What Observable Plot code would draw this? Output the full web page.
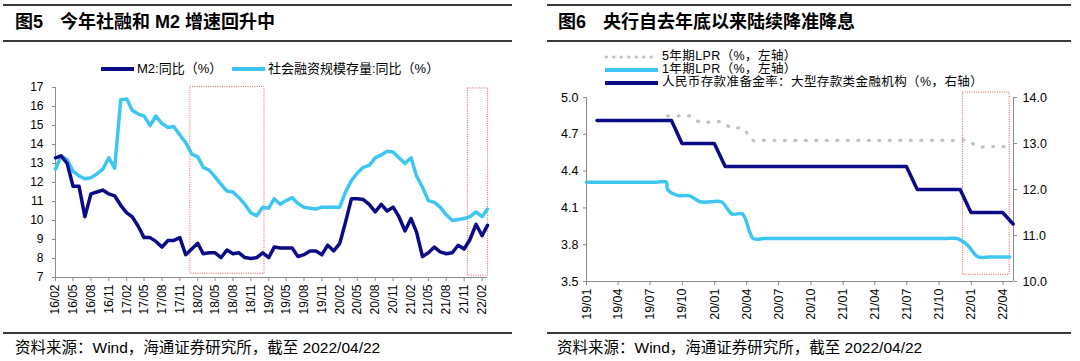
<!DOCTYPE html>
<html><head><meta charset="utf-8">
<script src="https://cdn.jsdelivr.net/npm/d3@7"></script>
<script src="https://cdn.jsdelivr.net/npm/@observablehq/plot@0.6"></script>
<style>
body{margin:0;background:#fff;}
#page{position:relative;width:1080px;height:361px;overflow:hidden;background:#fff;font-family:"Liberation Sans",Arial,"Noto Sans CJK SC",sans-serif;color:#000;}
.rule{position:absolute;background:#3a3a3a;}
.t{position:absolute;white-space:nowrap;}
.title{font-size:18px;font-weight:bold;line-height:22px;font-family:"Liberation Sans",Arial,"Noto Sans CJK SC",sans-serif;}
.cap{font-size:15.5px;line-height:18px;}
.leg{font-size:13px;line-height:14px;}
.leg2{font-size:12.5px;line-height:13px;letter-spacing:0.4px;}
.sw{position:absolute;height:4px;}
.plot{position:absolute;}
</style></head><body>
<div id="page"></div>
<script>
// ---------- Panel 5 data (monthly, 2016/02 - 2022/03) ----------
const leftStart = "2016-02-01";
const leftEnd = "2022-03-01";
const m2Yoy = [13.3,13.4,13.0,11.8,11.8,10.2,11.4,11.5,11.6,11.4,11.3,10.8,10.4,10.2,9.7,9.1,9.1,8.9,8.6,8.95,8.95,9.1,8.2,8.5,
  8.8,8.25,8.3,8.3,8.05,8.45,8.25,8.3,8.05,8.0,8.05,8.3,8.05,8.6,8.55,8.55,8.55,8.1,8.2,8.4,8.4,8.2,8.7,8.4,
  8.8,9.9,11.15,11.15,11.1,10.85,10.45,10.85,10.5,10.7,10.2,9.45,10.1,9.4,8.1,8.3,8.6,8.35,8.25,8.3,8.7,8.5,9.0,9.8,9.2,9.75];
const tsfYoy = [12.7,13.4,13.2,12.6,12.35,12.2,12.25,12.45,12.7,13.3,12.75,16.35,16.4,15.8,15.6,15.5,15.0,15.5,15.1,14.9,14.95,14.5,14.1,13.5,
  13.35,12.8,12.65,12.3,11.9,11.55,11.5,11.2,10.85,10.4,10.25,10.7,10.65,11.15,10.85,11.05,11.2,10.9,10.7,10.65,10.6,10.7,10.7,10.7,
  10.7,11.5,12.1,12.5,12.8,12.9,13.3,13.45,13.65,13.6,13.3,13.0,13.3,12.35,11.75,11.05,10.95,10.7,10.3,10.0,10.05,10.1,10.2,10.45,10.2,10.6];
const leftTickLabels = ["16/02","16/05","16/08","16/11","17/02","17/05","17/08","17/11","18/02","18/05","18/08","18/11",
  "19/02","19/05","19/08","19/11","20/02","20/05","20/08","20/11","21/02","21/05","21/08","21/11","22/02"];
const leftYTicks = [7,8,9,10,11,12,13,14,15,16,17];
const leftBoxStart = ["2017-12-25","2021-11-20"];
const leftBoxEnd   = ["2019-01-10","2022-03-04"];
const leftBoxTop   = [17.03,16.95];
const leftBoxBottom= [7.2,7.1];

// ---------- Panel 6 data ----------
const rightStart = "2019-01-01";
const rightEnd = "2022-05-01";
const lpr5yDates = ["2019-08-20","2019-09-20","2019-10-21","2019-11-20","2019-12-20","2020-01-20","2020-02-20","2020-03-20","2020-04-20",
  "2020-05-20","2020-06-22","2020-07-20","2020-08-20","2020-09-21","2020-10-20","2020-11-20","2020-12-21","2021-01-20","2021-02-20",
  "2021-03-22","2021-04-20","2021-05-20","2021-06-21","2021-07-20","2021-08-20","2021-09-22","2021-10-20","2021-11-22","2021-12-20",
  "2022-01-20","2022-02-21","2022-03-21","2022-04-20"];
const lpr5yValues = [4.85,4.85,4.85,4.80,4.80,4.80,4.75,4.75,4.65,4.65,4.65,4.65,4.65,4.65,4.65,4.65,4.65,4.65,4.65,
  4.65,4.65,4.65,4.65,4.65,4.65,4.65,4.65,4.65,4.65,4.60,4.60,4.60,4.60];
const lpr1yDates = ["2019-01-01","2019-02-20","2019-03-20","2019-04-20","2019-05-20","2019-06-20","2019-07-20","2019-08-16",
  ...lpr5yDates];
const lpr1yValues = [4.31,4.31,4.31,4.31,4.31,4.31,4.31,4.31,
  4.25,4.20,4.20,4.15,4.15,4.15,4.05,4.05,3.85,3.85,3.85,3.85,3.85,3.85,3.85,3.85,3.85,3.85,3.85,
  3.85,3.85,3.85,3.85,3.85,3.85,3.85,3.85,3.85,3.80,3.70,3.70,3.70,3.70];
const rrrMonthEnds = ["2019-01-31","2019-02-28","2019-03-31","2019-04-30","2019-05-31","2019-06-30","2019-07-31","2019-08-31",
  "2019-09-30","2019-10-31","2019-11-30","2019-12-31","2020-01-31","2020-02-29","2020-03-31","2020-04-30","2020-05-31","2020-06-30",
  "2020-07-31","2020-08-31","2020-09-30","2020-10-31","2020-11-30","2020-12-31","2021-01-31","2021-02-28","2021-03-31","2021-04-30",
  "2021-05-31","2021-06-30","2021-07-31","2021-08-31","2021-09-30","2021-10-31","2021-11-30","2021-12-31","2022-01-31","2022-02-28",
  "2022-03-31","2022-04-30"];
const rrrValues = [13.5,13.5,13.5,13.5,13.5,13.5,13.5,13.5,13.0,13.0,13.0,13.0,12.5,12.5,12.5,12.5,12.5,12.5,
  12.5,12.5,12.5,12.5,12.5,12.5,12.5,12.5,12.5,12.5,12.5,12.5,12.0,12.0,12.0,12.0,12.0,11.5,11.5,11.5,11.5,11.25];
const rightTickLabels = ["19/01","19/04","19/07","19/10","20/01","20/04","20/07","20/10","21/01","21/04","21/07","21/10","22/01","22/04"];
const rightLeftTicks = [3.5,3.8,4.1,4.4,4.7,5.0];
const rightRightTicks = [10,11,12,13,14];
const rightBoxStart = ["2021-12-08"], rightBoxEnd = ["2022-04-20"], rightBoxTop = [5.04], rightBoxBottom = [3.555];

// ---------- colours ----------
const NAVY = "#0b0b86", LIGHT = "#3ec6f3", GRAY = "#c3c3c3", RED = "#e05a5a", AXIS = "#8c8c8c";
const FONT = '"Liberation Sans",Arial,"Noto Sans CJK SC",sans-serif';

const P = d => new Date(d + (d.length === 10 ? "T00:00:00Z" : ""));
const ym = s => new Date(Date.UTC(2000 + +s.slice(0,2), +s.slice(3,5) - 1, 1));

const page = document.getElementById("page");
function add(html){ page.insertAdjacentHTML("beforeend", html); }
function place(node, left, top){ node.classList.add("plot"); node.style.left = left+"px"; node.style.top = top+"px"; page.appendChild(node); }

// ---------- frame: rules, titles, captions ----------
add(`<div class="rule" style="left:3px;top:4px;width:509px;height:2px"></div>
<div class="rule" style="left:3px;top:40px;width:509px;height:1.5px"></div>
<div class="rule" style="left:3px;top:332px;width:509px;height:1.5px"></div>
<div class="rule" style="left:547px;top:4px;width:524px;height:2px"></div>
<div class="rule" style="left:547px;top:40px;width:524px;height:1.5px"></div>
<div class="rule" style="left:547px;top:332px;width:524px;height:1.5px"></div>
<div class="t title" style="left:15px;top:11px">图5<span style="margin-left:17px">今年社融和 M2 增速回升中</span></div>
<div class="t title" style="left:558px;top:11px">图6<span style="margin-left:17px">央行自去年底以来陆续降准降息</span></div>
<div class="t cap" style="left:15px;top:339px">资料来源：Wind，海通证券研究所，截至 2022/04/22</div>
<div class="t cap" style="left:557px;top:339px">资料来源：Wind，海通证券研究所，截至 2022/04/22</div>`);

// ---------- legends ----------
add(`<div class="sw" style="left:101px;top:67px;width:33px;background:${NAVY}"></div>
<div class="t leg" style="left:137px;top:62px">M2:同比（%）</div>
<div class="sw" style="left:232px;top:67px;width:33px;background:${LIGHT}"></div>
<div class="t leg" style="left:268px;top:62px">社会融资规模存量:同比（%）</div>
<svg class="t" style="left:604px;top:53.5px" width="56" height="6"><line x1="2" y1="3" x2="54" y2="3" stroke="${GRAY}" stroke-width="3" stroke-linecap="round" stroke-dasharray="0.5 7"/></svg>
<div class="t leg2" style="left:662px;top:50px">5年期LPR（%，左轴）</div>
<div class="sw" style="left:605px;top:67.5px;width:53px;background:${LIGHT}"></div>
<div class="t leg2" style="left:662px;top:63px">1年期LPR（%，左轴）</div>
<div class="sw" style="left:605px;top:80.5px;width:53px;background:${NAVY}"></div>
<div class="t leg2" style="left:662px;top:76px">人民币存款准备金率：大型存款类金融机构（%，右轴）</div>`);

// ---------- Panel 5 plot ----------
const leftMonths = d3.utcMonth.range(P(leftStart), d3.utcMonth.offset(P(leftEnd), 1));
const leftData = leftMonths.map((d, i) => ({date: d, m2: m2Yoy[i], tsf: tsfYoy[i]}));
const leftBoxes = leftBoxStart.map((s, i) => ({x1: P(s), x2: P(leftBoxEnd[i]), y1: leftBoxBottom[i], y2: leftBoxTop[i]}));
const leftTicks = leftTickLabels.map(ym);

const left = Plot.plot({
  width: 540, height: 237, marginTop: 7, marginBottom: 40, marginLeft: 55, marginRight: 53,
  style: {fontFamily: FONT, fontSize: "12px", background: "transparent", overflow: "visible", color: "#000"},
  x: {type: "utc", domain: [P(leftStart), P(leftEnd)], label: null},
  y: {domain: [7, 17], label: null},
  marks: [
    Plot.ruleY([7], {stroke: AXIS}),
    Plot.ruleX([P(leftStart)], {y1: 7, y2: 17, stroke: AXIS}),
    Plot.axisY({ticks: leftYTicks, tickSize: 3, tickPadding: 9, stroke: AXIS, fill: "#000", label: null}),
    Plot.axisX({ticks: leftTicks, tickFormat: d3.utcFormat("%y/%m"), tickRotate: -90, tickSize: 4, tickPadding: 3, stroke: AXIS, fill: "#000", label: null}),
    Plot.rect(leftBoxes, {x1: "x1", x2: "x2", y1: "y1", y2: "y2", fill: "none", stroke: RED, strokeWidth: 1, strokeDasharray: "1 1.3"}),
    Plot.line(leftData, {x: "date", y: "tsf", stroke: LIGHT, strokeWidth: 3.5, strokeLinejoin: "round"}),
    Plot.line(leftData, {x: "date", y: "m2", stroke: NAVY, strokeWidth: 3.5, strokeLinejoin: "round"})
  ]
});
place(left, 0, 80);

// ---------- Panel 6 plots (left axis + right axis overlay) ----------
const lpr5 = lpr5yDates.map((d, i) => ({date: P(d), v: lpr5yValues[i]}));
const lpr1 = lpr1yDates.map((d, i) => ({date: P(d), v: lpr1yValues[i]}));
const rrr = rrrMonthEnds.map((d, i) => ({date: P(d), v: rrrValues[i]}));
const rightBoxes = rightBoxStart.map((s, i) => ({x1: P(s), x2: P(rightBoxEnd[i]), y1: rightBoxBottom[i], y2: rightBoxTop[i]}));
const rightTicks = rightTickLabels.map(ym);
const common = {
  width: 540, height: 233, marginTop: 7, marginBottom: 42, marginLeft: 46, marginRight: 67,
  style: {fontFamily: FONT, fontSize: "12.5px", background: "transparent", overflow: "visible", color: "#000"}
};
const rA = Plot.plot({
  ...common,
  x: {type: "utc", domain: [P(rightStart), P(rightEnd)], label: null},
  y: {domain: [3.5, 5.0], label: null},
  marks: [
    Plot.ruleY([3.5], {stroke: AXIS}),
    Plot.ruleX([P(rightStart)], {y1: 3.5, y2: 5.0, stroke: AXIS}),
    Plot.axisY({ticks: rightLeftTicks, tickFormat: d3.format(".1f"), tickSize: 3, tickPadding: 5, stroke: AXIS, fill: "#000", label: null}),
    Plot.axisX({ticks: rightTicks, tickFormat: d3.utcFormat("%y/%m"), tickRotate: -90, tickSize: 4, tickPadding: 3, stroke: AXIS, fill: "#000", label: null}),
    Plot.rect(rightBoxes, {x1: "x1", x2: "x2", y1: "y1", y2: "y2", fill: "none", stroke: RED, strokeWidth: 1, strokeDasharray: "1 1.3"}),
    Plot.line(lpr5, {x: "date", y: "v", stroke: GRAY, strokeWidth: 3.2, strokeLinecap: "round", strokeDasharray: "1 9.5", curve: "catmull-rom"}),
    Plot.line(lpr1, {x: "date", y: "v", stroke: LIGHT, strokeWidth: 3.5, curve: "catmull-rom"})
  ]
});
place(rA, 540, 90);
const rB = Plot.plot({
  ...common,
  x: {type: "utc", domain: [P(rightStart), P(rightEnd)], label: null, axis: null},
  y: {domain: [10, 14], label: null},
  marks: [
    Plot.ruleX([P(rightEnd)], {y1: 10, y2: 14, stroke: AXIS}),
    Plot.axisY({anchor: "right", ticks: rightRightTicks, tickFormat: d3.format(".1f"), tickSize: 3, tickPadding: 6, stroke: AXIS, fill: "#000", label: null}),
    Plot.line(rrr, {x: "date", y: "v", stroke: NAVY, strokeWidth: 3.5, strokeLinejoin: "round"})
  ]
});
rB.style.pointerEvents = "none";
place(rB, 540, 90);
</script>
</body></html>
